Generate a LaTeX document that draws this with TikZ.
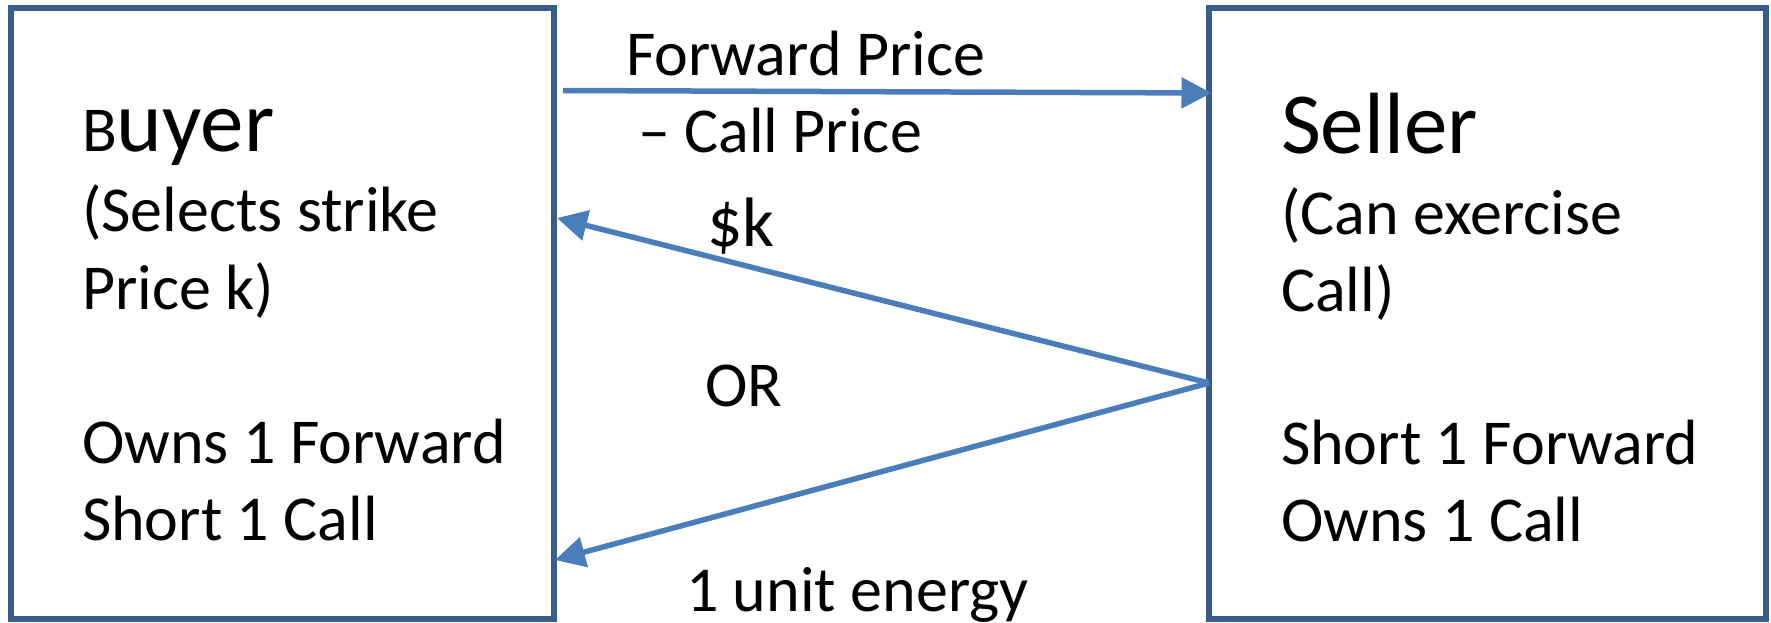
\documentclass[tikz,border=0pt]{standalone}
\usepackage{fontspec}
\setmainfont{Carlito}
\usetikzlibrary{arrows.meta}
\definecolor{boxc}{HTML}{385D8A}
\definecolor{arrc}{HTML}{4A7EBB}
\newcommand{\bodysz}{\fontsize{64pt}{77pt}\selectfont}
\newcommand{\titlesz}{\fontsize{87pt}{100pt}\selectfont}
\newcommand{\dollarsz}{\fontsize{70pt}{80pt}\selectfont}
\tikzset{
  party/.style={draw=boxc, line width=6pt, rectangle, inner sep=0pt, outer sep=0pt, minimum height=611pt},
  txt/.style={anchor=base west, inner sep=0pt, outer sep=0pt, text=black, font=\bodysz},
  flow/.style={draw=arrc, line width=5.5pt, -{Triangle[length=30pt,width=30pt]}}
}
\begin{document}
\begin{tikzpicture}[x=1pt,y=-1pt]
\useasboundingbox (0,0) rectangle (1771,622);
% boxes
\node[party, minimum width=543.5pt] (buyer) at (282.25,313) {};
\node[party, minimum width=556.5pt] (seller) at (1487.25,313) {};
% buyer text
\node[txt] (bt) at (82,151) {B{\titlesz uyer}};
\node[txt] (b1) at (82,231) {(Selects strike};
\node[txt] (b2) at (82,309) {Price k)};
\node[txt] (b3) at (82,463) {Owns 1 Forward};
\node[txt] (b4) at (82,540) {Short 1 Call};
% seller text
\node[txt, font=\titlesz] (st) at (1281,153) {Seller};
\node[txt] (s1) at (1281,234) {(Can exercise};
\node[txt] (s2) at (1281,311) {Call)};
\node[txt] (s3) at (1281,464) {Short 1 Forward};
\node[txt] (s4) at (1281,541) {Owns 1 Call};
% middle labels
\node[txt] (fp) at (626,75.5) {Forward Price};
\node[txt] (cp) at (638,152.7) {– Call Price};
\node[txt, font=\dollarsz] (dk) at (707,246) {\$k};
\node[txt] (or) at (705,406.6) {OR};
\node[txt] (ue) at (686,611) {1 unit energy};
% connectors
\coordinate (fs) at (563,90.5);
\draw[flow] (fs) -- ([xshift=2.5pt,yshift=220pt]seller.west);
\draw[flow] ([yshift=-70pt]seller.west) -- ([xshift=3pt,yshift=95pt]buyer.east);
\draw[flow] ([yshift=-70pt]seller.west) -- ([xshift=1pt,yshift=-247pt]buyer.east);
\end{tikzpicture}
\end{document}
